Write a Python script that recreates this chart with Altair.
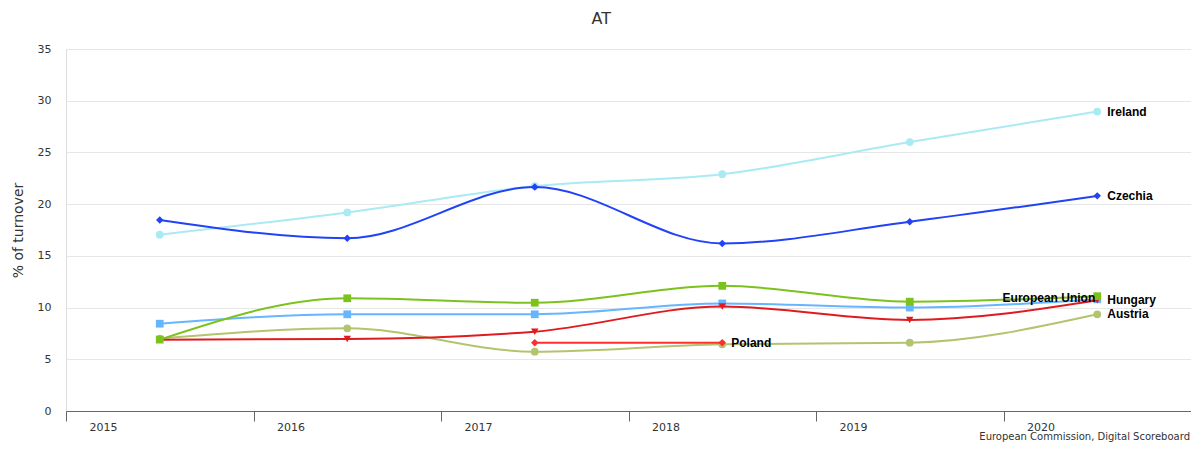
import altair as alt
import pandas as pd

# ---- data ----
years = [2015, 2016, 2017, 2018, 2019, 2020]
ireland = [17.05, 19.2, 21.75, 22.9, 26.0, 28.95]
czechia = [18.47, 16.7, 21.65, 16.2, 18.3, 20.8]
european_union = [8.44, 9.35, 9.35, 10.4, 10.0, 10.8]
austria = [7.0, 8.0, 5.73, 6.45, 6.6, 9.35]
unlabelled_red = [6.9, 6.96, 7.67, 10.1, 8.8, 10.7]
hungary = [6.9, 10.9, 10.47, 12.1, 10.57, 11.1]
poland_years = [2017, 2018]
poland = [6.6, 6.6]

y_ticks = [0, 5, 10, 15, 20, 25, 30, 35]
title_text = "AT"
y_title = "% of turnover"
credits_text = "European Commission, Digital Scoreboard"

# series in drawing order: (key, label, years, values)
series = [
    ("Ireland", "Ireland", years, ireland),
    ("Czechia", "Czechia", years, czechia),
    ("European Union", "European Union", years, european_union),
    ("Austria", "Austria", years, austria),
    ("Series 7", "", years, unlabelled_red),
    ("Hungary", "Hungary", years, hungary),
    ("Poland", "Poland", poland_years, poland),
]

rows = []
for key, label, ys, vs in series:
    for yr, v in zip(ys, vs):
        rows.append({"series": key, "label": label, "year": yr, "value": v})
df = pd.DataFrame(rows)

# ---- styles ----
style = {
    "Ireland": dict(color="#a9eaf5", shape="circle", size=60),
    "Czechia": dict(color="#2142f5", shape="diamond", size=55),
    "European Union": dict(color="#66b5ff", shape="square", size=60),
    "Austria": dict(color="#b3c470", shape="circle", size=60),
    "Series 7": dict(color="#e01b1f", shape="triangle-down", size=55),
    "Hungary": dict(color="#7cc21d", shape="square", size=60),
    "Poland": dict(color="#ff2e2e", shape="diamond", size=55),
}
# label placement: (series, anchor year, align, dx, dy)
label_place = [
    ("Ireland", 2020, "left", 10, 0),
    ("Czechia", 2020, "left", 10, 0),
    ("Hungary", 2020, "left", 10, 4),
    ("Austria", 2020, "left", 10, 0),
    ("European Union", 2020, "right", -2, -1),
    ("Poland", 2018, "left", 9, 0),
]

W, H = 1125, 362
FONT = "DejaVu Sans"

keys = [s[0] for s in series]
color_scale = alt.Scale(domain=keys, range=[style[k]["color"] for k in keys])
shape_scale = alt.Scale(domain=keys, range=[style[k]["shape"] for k in keys])

tick_vals = [y - 0.5 for y in years] + [years[-1] + 0.5]
x_enc = alt.X(
    "year:Q",
    scale=alt.Scale(domain=[years[0] - 0.5, years[-1] + 0.5], nice=False, zero=False),
    axis=alt.Axis(
        values=tick_vals,
        labelExpr=f"datum.value < {years[-1]} ? format(datum.value + 0.5, 'd') : ''",
        title=None,
        grid=False,
        domain=True,
        domainColor="#666666",
        domainWidth=1,
        ticks=True,
        tickColor="#666666",
        tickSize=10,
        labelPadding=0,
        labelAlign="center",
        labelOffset=37,
        labelFlush=False,
        labelFont=FONT,
        labelFontSize=11,
        labelColor="#333333",
    ),
)
y_enc = alt.Y(
    "value:Q",
    scale=alt.Scale(domain=[y_ticks[0], y_ticks[-1]], nice=False),
    axis=alt.Axis(
        values=y_ticks,
        title=y_title,
        titleFont=FONT,
        titleFontSize=14,
        titleFontWeight="normal",
        titleColor="#333333",
        titlePadding=12,
        grid=True,
        gridColor="#e6e6e6",
        domain=False,
        ticks=False,
        labelPadding=15,
        labelFont=FONT,
        labelFontSize=11,
        labelColor="#333333",
    ),
)

base = alt.Chart(df)
layers = []
for key, label, ys, vs in series:
    st = style[key]
    sub = base.transform_filter(alt.datum.series == key)
    layers.append(
        sub.mark_line(interpolate="monotone", strokeWidth=2).encode(
            x=x_enc, y=y_enc,
            color=alt.Color("series:N", scale=color_scale, legend=None),
        )
    )
    layers.append(
        sub.mark_point(filled=True, opacity=1, size=st["size"]).encode(
            x=x_enc, y=y_enc,
            color=alt.Color("series:N", scale=color_scale, legend=None),
            shape=alt.Shape("series:N", scale=shape_scale, legend=None),
        )
    )

for key, yr, align, dx, dy in label_place:
    layers.append(
        base.transform_filter((alt.datum.series == key) & (alt.datum.year == yr))
        .mark_text(align=align, baseline="middle", dx=dx, dy=dy,
                   font="Liberation Sans", fontSize=12, fontWeight="bold", color="#000000")
        .encode(x=x_enc, y=y_enc, text="label:N")
    )

credits = alt.Chart(pd.DataFrame({"t": [credits_text]})).mark_text(
    align="right", baseline="alphabetic", font=FONT, fontSize=10, color="#333333"
).encode(x=alt.value(W - 1), y=alt.value(H + 29), text="t:N")
layers.append(credits)

chart = alt.layer(*layers).properties(
    width=W,
    height=H,
    title=alt.TitleParams(
        title_text, anchor="middle", frame="bounds", font=FONT, fontSize=16,
        fontWeight="normal", color="#333333", offset=16,
    ),
    padding={"left": 58, "top": 41, "right": 0, "bottom": 31},
    autosize=alt.AutoSizeParams(type="none"),
).configure_view(stroke=None).configure(background="white")

chart.save("out.html", embed_options={"renderer": "svg", "actions": False})
